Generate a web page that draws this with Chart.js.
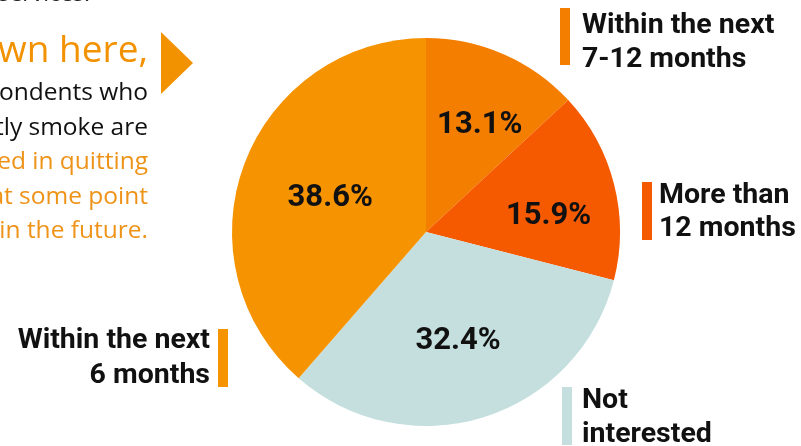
<!DOCTYPE html>
<html>
<head>
<meta charset="utf-8">
<script src="https://cdn.jsdelivr.net/npm/chart.js@4"></script>
<style>
  html, body { margin: 0; padding: 0; background: #fff; overflow: hidden; }
  #wrap { position: relative; width: 801px; height: 446px; }
  canvas { position: absolute; left: 0; top: 0; }
  .side { position: absolute; font-family: 'Open Sans', sans-serif; white-space: nowrap; text-align: right; }
  .body-line { font-size: 24.5px; line-height: 34.5px; }
  .lbl { position: absolute; font-family: Roboto, sans-serif; font-weight: 700; font-size: 28.5px; line-height: 34px; color: #111; white-space: nowrap; }
  .mark { position: absolute; width: 10px; }
  #arrow { position: absolute; left: 161px; top: 32px; width: 0; height: 0;
           border-top: 31.5px solid transparent; border-bottom: 31.5px solid transparent;
           border-left: 32px solid #F39200; }
</style>
</head>
<body>
<div id="wrap">
  <canvas id="pieChart" width="801" height="446"></canvas>

  <!-- left side text, cropped by the frame -->
  <div class="side body-line" style="right:711px; top:-25px; color:#222; font-size:23px;">the services.</div>
  <div class="side" style="right:653px; top:23px; font-size:37px; line-height:50px; color:#F39200;">As shown here,</div>
  <div class="side body-line" style="right:653px; top:74px; color:#111;">
    of respondents who<br>currently smoke are<br>
    <span style="color:#EE9318;">interested in quitting<br>at some point<br>in the future.</span>
  </div>
  <div id="arrow"></div>

  <!-- slice labels outside the pie -->
  <div class="mark" style="left:560px; top:8px; height:57px; background:#F47E00;"></div>
  <div class="lbl" style="left:582px; top:7px;">Within the next<br>7-12 months</div>

  <div class="mark" style="left:642px; top:182px; height:58px; background:#F55A00;"></div>
  <div class="lbl" style="left:659px; top:177px; line-height:33px;">More than<br>12 months</div>

  <div class="mark" style="left:562px; top:387px; height:58px; background:#C5DFDF;"></div>
  <div class="lbl" style="left:582px; top:382px;">Not<br>interested</div>

  <div class="mark" style="left:218px; top:329px; height:58px; background:#F59300;"></div>
  <div class="lbl" style="right:591px; top:321px; line-height:35px; text-align:right;">Within the next<br>6 months</div>
</div>

<script>
// ===== DATA =====
const categories = ['Within the next 7-12 months', 'More than 12 months', 'Not interested', 'Within the next 6 months'];
const shares = [13.1, 15.9, 32.4, 38.6];
const sliceColors = ['#F47E00', '#F55A00', '#C5DFDF', '#F59300'];

// label placement: fraction of radius + small angular nudge (degrees)
const labelRadius = [0.63, 0.64, 0.57, 0.53];
const labelNudge = [2.5, 5.3, 0.4, 0.8];

// ===== PERCENT LABELS INSIDE SLICES =====
const pctLabels = {
  id: 'pctLabels',
  afterDatasetsDraw(chart) {
    const { ctx } = chart;
    const meta = chart.getDatasetMeta(0);
    const size = 31;
    ctx.save();
    ctx.font = `700 ${size}px Roboto, sans-serif`;
    ctx.fillStyle = '#111';
    ctx.textAlign = 'center';
    ctx.textBaseline = 'alphabetic';
    meta.data.forEach((arc, i) => {
      const mid = (arc.startAngle + arc.endAngle) / 2 + labelNudge[i] * Math.PI / 180;
      const r = arc.outerRadius * labelRadius[i];
      const x = arc.x + Math.cos(mid) * r;
      const y = arc.y + Math.sin(mid) * r;
      ctx.fillText(shares[i].toFixed(1) + '%', x, y + size * 0.711 / 2);
    });
    ctx.restore();
  }
};

new Chart(document.getElementById('pieChart').getContext('2d'), {
  type: 'pie',
  data: {
    labels: categories,
    datasets: [{
      data: shares,
      backgroundColor: sliceColors,
      borderWidth: 0,
      hoverOffset: 0,
    }]
  },
  options: {
    responsive: false,
    animation: false,
    layout: { padding: { left: 232, right: 181, top: 38, bottom: 20 } },
    plugins: {
      legend: { display: false },
      tooltip: { enabled: false }
    }
  },
  plugins: [pctLabels]
});
</script>
</body>
</html>
